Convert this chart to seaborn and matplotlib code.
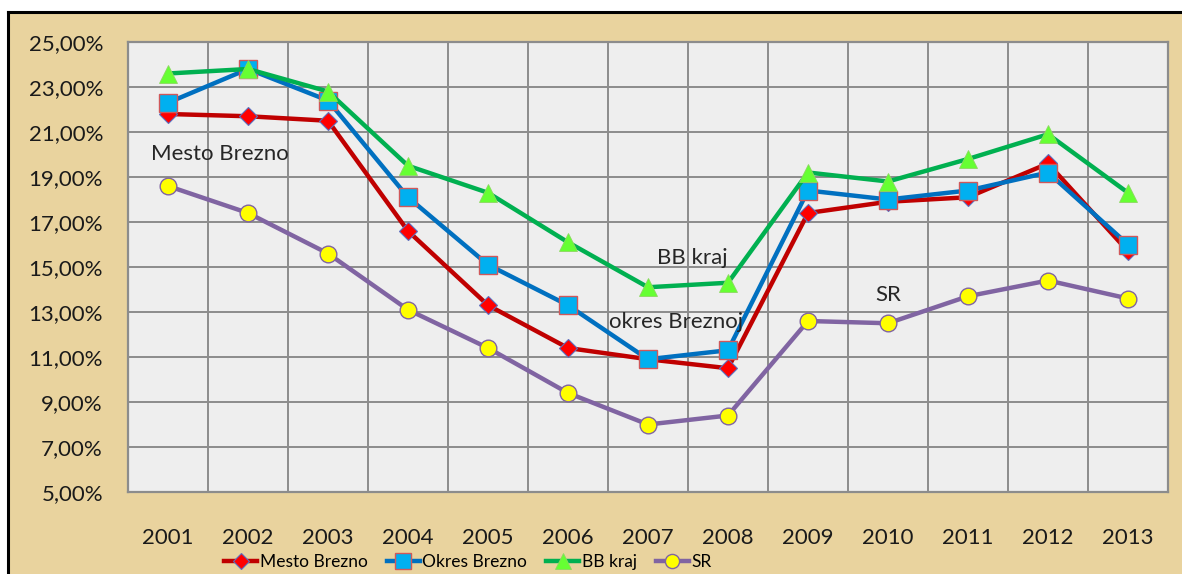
import matplotlib
matplotlib.use("Agg")
import matplotlib.pyplot as plt
import seaborn as sns
import numpy as np
import pandas as pd
from matplotlib.patches import Rectangle
from matplotlib.lines import Line2D
from matplotlib import font_manager

# ---- data ----
years = [2001, 2002, 2003, 2004, 2005, 2006, 2007, 2008, 2009, 2010, 2011, 2012, 2013]
mesto_brezno = [21.8, 21.7, 21.5, 16.6, 13.3, 11.4, 10.9, 10.5, 17.4, 17.9, 18.1, 19.6, 15.7]
okres_brezno = [22.3, 23.8, 22.4, 18.1, 15.1, 13.3, 10.9, 11.3, 18.4, 18.0, 18.4, 19.2, 16.0]
bb_kraj = [23.6, 23.8, 22.8, 19.5, 18.3, 16.1, 14.1, 14.3, 19.2, 18.8, 19.8, 20.9, 18.3]
sr = [18.6, 17.4, 15.6, 13.1, 11.4, 9.4, 8.0, 8.4, 12.6, 12.5, 13.7, 14.4, 13.6]
series_names = ["Mesto Brezno", "Okres Brezno", "BB kraj", "SR"]
y_ticks = [5, 7, 9, 11, 13, 15, 17, 19, 21, 23, 25]

names_avail = {f.name for f in font_manager.fontManager.ttflist}
main_font = "Lato" if "Lato" in names_avail else "DejaVu Sans"
legend_font, legend_size = main_font, 12.5
for cand, sz in [("Liberation Sans Narrow", 14), ("DejaVu Sans Condensed", 13)]:
    if cand in names_avail:
        legend_font, legend_size = cand, sz
        break

plt.rcParams["font.family"] = [main_font, "DejaVu Sans"]

W, H = 1182, 574
fig = plt.figure(figsize=(W / 100, H / 100), dpi=100)
fig.patch.set_facecolor("white")

# parchment background with black border on left and top
x0, ytop = 8 / W, 1 - 12 / H
fig.add_artist(Rectangle((x0, 0), 1 - x0, ytop, transform=fig.transFigure,
                         facecolor="#E9D39E", edgecolor="none", zorder=0))
fig.add_artist(Line2D([x0, x0], [0, ytop], transform=fig.transFigure, color="black", lw=2.2))
fig.add_artist(Line2D([x0, 1], [ytop, ytop], transform=fig.transFigure, color="black", lw=2.2))

ax = fig.add_axes([128 / W, 1 - 492 / H, (1168 - 128) / W, (492 - 42) / H])
ax.set_facecolor("#EEEEEE")

styles = [
    dict(color="#C00000", marker="D", markersize=9, markerfacecolor="#FF0000",
         markeredgecolor="#5B6FC0", markeredgewidth=0.8),
    dict(color="#0070C0", marker="s", markersize=13, markerfacecolor="#00B0F0",
         markeredgecolor="#D0585A", markeredgewidth=1.0),
    dict(color="#00B050", marker="^", markersize=13, markerfacecolor="#66FF33",
         markeredgecolor="#8CD860", markeredgewidth=0.6),
    dict(color="#8064A2", marker="o", markersize=12, markerfacecolor="#FFFF00",
         markeredgecolor="#8064A2", markeredgewidth=1.0),
]
values = [mesto_brezno, okres_brezno, bb_kraj, sr]
for i, (name, vals, st) in enumerate(zip(series_names, values, styles)):
    sns.lineplot(x=years, y=vals, ax=ax, linewidth=3.2, label=name, zorder=3 + i, **st)

ax.set_xlim(years[0] - 0.5, years[-1] + 0.5)
ax.set_ylim(y_ticks[0], y_ticks[-1])
ax.set_xticks(years)
ax.set_xticklabels([str(y) for y in years])
ax.set_xticks([y + 0.5 for y in years[:-1]], minor=True)
ax.set_yticks(y_ticks)
ax.set_yticklabels([f"{v:.2f}".replace(".", ",") + "%" for v in y_ticks])
ax.tick_params(axis="both", which="both", length=0, labelsize=16, colors="#1A1A1A")
ax.tick_params(axis="y", pad=18)
ax.tick_params(axis="x", pad=26)
ax.grid(True, axis="y", which="major", color="#8C8C8C", lw=1.4, zorder=1)
ax.grid(True, axis="x", which="minor", color="#8C8C8C", lw=1.4, zorder=1)
ax.grid(False, axis="x", which="major")
ax.set_axisbelow(True)
for s in ax.spines.values():
    s.set_color("#8C8C8C")
    s.set_linewidth(1.6)
ax.set_xlabel("")
ax.set_ylabel("")

# in-chart labels
ann_kw = dict(fontsize=16, color="#262626", va="center", zorder=10)
ax.text(2001 - 0.21, 20.0, "Mesto Brezno", ha="left", **ann_kw)
ax.text(2007.55, 15.4, "BB kraj", ha="center", **ann_kw)
ax.text(2007.35, 12.55, "okres Breznoj", ha="center", **ann_kw)
ax.text(2010.0, 13.75, "SR", ha="center", **ann_kw)

handles, labels = ax.get_legend_handles_labels()
if ax.get_legend() is not None:
    ax.get_legend().remove()
fig.legend(handles, labels, loc="center", bbox_to_anchor=(468 / W, 1 - 562 / H), ncol=4,
           frameon=False, prop={"family": legend_font, "size": legend_size},
           handlelength=1.9, handletextpad=0.15, columnspacing=1.1, borderaxespad=0,
           markerscale=0.85)

fig.savefig("out.png", dpi=100)
